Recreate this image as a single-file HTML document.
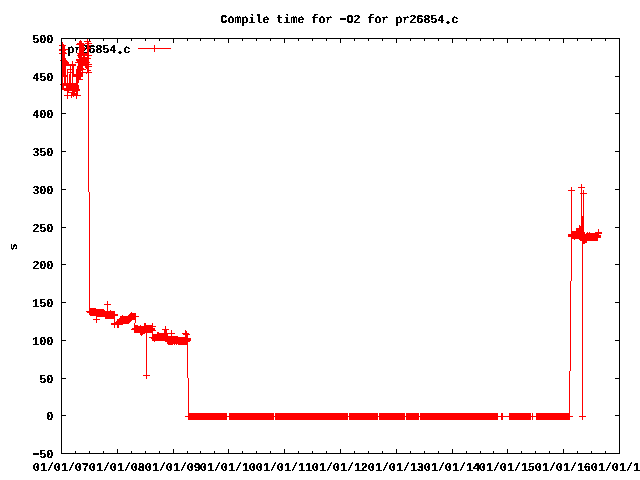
<!DOCTYPE html>
<html>
<head>
<meta charset="utf-8">
<title>Compile time for -O2 for pr26854.c</title>
<style>
html,body{margin:0;padding:0;background:#fff;}
body{width:640px;height:480px;overflow:hidden;}
svg{display:block;}
text{text-rendering:geometricPrecision;font-family:"Liberation Mono",monospace;font-weight:bold;font-size:12.0px;letter-spacing:-0.20px;fill:#000;}
</style>
</head>
<body>
<svg width="640" height="480" viewBox="0 0 640 480">
<rect x="0" y="0" width="640" height="480" fill="#ffffff"/>
<path d="M62,76h4v1h-4zM615,76h4v1h-4zM62,113h4v1h-4zM615,113h4v1h-4zM62,151h4v1h-4zM615,151h4v1h-4zM62,189h4v1h-4zM615,189h4v1h-4zM62,227h4v1h-4zM615,227h4v1h-4zM62,264h4v1h-4zM615,264h4v1h-4zM62,302h4v1h-4zM615,302h4v1h-4zM62,340h4v1h-4zM615,340h4v1h-4zM62,378h4v1h-4zM615,378h4v1h-4zM62,415h4v1h-4zM615,415h4v1h-4zM75,451h1v2h-1zM75,39h1v2h-1zM89,451h1v2h-1zM89,39h1v2h-1zM103,451h1v2h-1zM103,39h1v2h-1zM117,449h1v4h-1zM117,39h1v4h-1zM131,451h1v2h-1zM131,39h1v2h-1zM145,451h1v2h-1zM145,39h1v2h-1zM159,451h1v2h-1zM159,39h1v2h-1zM173,449h1v4h-1zM173,39h1v4h-1zM187,451h1v2h-1zM187,39h1v2h-1zM200,451h1v2h-1zM200,39h1v2h-1zM214,451h1v2h-1zM214,39h1v2h-1zM228,449h1v4h-1zM228,39h1v4h-1zM242,451h1v2h-1zM242,39h1v2h-1zM256,451h1v2h-1zM256,39h1v2h-1zM270,451h1v2h-1zM270,39h1v2h-1zM284,449h1v4h-1zM284,39h1v4h-1zM298,451h1v2h-1zM298,39h1v2h-1zM312,451h1v2h-1zM312,39h1v2h-1zM326,451h1v2h-1zM326,39h1v2h-1zM340,449h1v4h-1zM340,39h1v4h-1zM354,451h1v2h-1zM354,39h1v2h-1zM368,451h1v2h-1zM368,39h1v2h-1zM382,451h1v2h-1zM382,39h1v2h-1zM396,449h1v4h-1zM396,39h1v4h-1zM410,451h1v2h-1zM410,39h1v2h-1zM424,451h1v2h-1zM424,39h1v2h-1zM438,451h1v2h-1zM438,39h1v2h-1zM452,449h1v4h-1zM452,39h1v4h-1zM466,451h1v2h-1zM466,39h1v2h-1zM480,451h1v2h-1zM480,39h1v2h-1zM493,451h1v2h-1zM493,39h1v2h-1zM507,449h1v4h-1zM507,39h1v4h-1zM521,451h1v2h-1zM521,39h1v2h-1zM535,451h1v2h-1zM535,39h1v2h-1zM549,451h1v2h-1zM549,39h1v2h-1zM563,449h1v4h-1zM563,39h1v4h-1zM577,451h1v2h-1zM577,39h1v2h-1zM591,451h1v2h-1zM591,39h1v2h-1zM605,451h1v2h-1zM605,39h1v2h-1zM340,18h6v2h-6zM447,21h2v3h-2zM446,22h4v1h-4zM119,51h2v3h-2zM118,52h4v1h-4zM33,453h6v2h-6z" fill="#000" shape-rendering="crispEdges"/>
<defs><filter id="th" x="0" y="0" width="640" height="480" filterUnits="userSpaceOnUse" color-interpolation-filters="sRGB"><feComponentTransfer><feFuncA type="discrete" tableValues="0 0 0 1 1 1 1 1"/></feComponentTransfer></filter></defs>
<g filter="url(#th)">
<text x="220.30" y="23.00">Compile time for <tspan dy="-1">-</tspan><tspan dy="1">O2 for pr26854.c</tspan></text>
<text x="32.30" y="43.00">500</text>
<text x="32.30" y="81.00">450</text>
<text x="32.30" y="118.00">400</text>
<text x="32.30" y="156.00">350</text>
<text x="32.30" y="194.00">300</text>
<text x="32.30" y="232.00">250</text>
<text x="32.30" y="269.00">200</text>
<text x="32.30" y="307.00">150</text>
<text x="32.30" y="345.00">100</text>
<text x="39.30" y="383.00">50</text>
<text x="46.30" y="420.00">0</text>
<text x="32.30" y="458.00"><tspan dy="-1">-</tspan><tspan dy="1">50</tspan></text>
<text x="32.80" y="471.00">01/01/07</text>
<text x="88.80" y="471.00">01/01/08</text>
<text x="144.80" y="471.00">01/01/09</text>
<text x="199.80" y="471.00">01/01/10</text>
<text x="255.80" y="471.00">01/01/11</text>
<text x="311.80" y="471.00">01/01/12</text>
<text x="367.80" y="471.00">01/01/13</text>
<text x="423.80" y="471.00">01/01/14</text>
<text x="478.80" y="471.00">01/01/15</text>
<text x="534.80" y="471.00">01/01/16</text>
<text x="590.80" y="471.00">01/01/17</text>
<text transform="translate(17,250.5) rotate(-90)" x="0" y="0">s</text>
<text x="67.30" y="53">pr26854.c</text>
</g>
<path d="M59,45h7v1h-7zM59,50h7v1h-7zM59,53h8v1h-8zM59,49h9v1h-9zM60,60h7v1h-7zM60,84h18v1h-18zM62,42h1v2h-1zM62,77h1v6h-1zM62,44h2v1h-2zM62,86h2v2h-2zM62,46h3v3h-3zM62,51h3v1h-3zM62,54h3v4h-3zM62,52h4v1h-4zM62,58h4v2h-4zM62,66h4v9h-4zM62,61h6v1h-6zM62,75h6v2h-6zM62,62h7v2h-7zM62,64h14v2h-14zM62,83h16v1h-16zM62,85h17v1h-17zM62,88h17v1h-17zM62,89h18v1h-18zM64,77h2v6h-2zM64,90h16v1h-16zM64,95h17v1h-17zM66,86h13v2h-13zM67,70h1v2h-1zM67,73h1v2h-1zM67,77h1v6h-1zM67,93h1v2h-1zM67,96h1v3h-1zM67,91h2v1h-2zM67,69h7v1h-7zM67,72h7v1h-7zM67,92h8v1h-8zM69,74h2v9h-2zM70,66h1v3h-1zM70,70h1v2h-1zM70,73h1v1h-1zM71,96h1v2h-1zM71,93h7v2h-7zM72,61h1v3h-1zM72,77h1v6h-1zM72,66h2v3h-2zM72,70h2v2h-2zM72,73h2v1h-2zM72,91h6v1h-6zM72,74h11v3h-11zM73,96h1v1h-1zM75,62h15v1h-15zM76,96h1v3h-1zM76,92h2v1h-2zM76,80h3v3h-3zM76,71h5v1h-5zM76,77h5v2h-5zM76,70h7v1h-7zM76,73h7v1h-7zM76,79h7v1h-7zM76,44h9v1h-9zM76,69h10v1h-10zM76,59h13v2h-13zM76,72h16v1h-16zM77,66h6v2h-6zM77,43h7v1h-7zM77,68h7v1h-7zM77,53h12v1h-12zM77,61h12v1h-12zM77,55h15v1h-15zM78,56h4v1h-4zM78,54h11v1h-11zM78,57h11v1h-11zM78,63h11v1h-11zM78,65h11v1h-11zM78,64h14v1h-14zM79,41h3v2h-3zM79,45h5v2h-5zM79,50h5v3h-5zM79,47h6v3h-6zM79,58h12v1h-12zM80,40h1v1h-1zM82,71h1v1h-1zM83,56h2v1h-2zM84,41h7v1h-7zM85,67h4v1h-4zM85,43h7v1h-7zM85,66h7v1h-7zM86,73h1v1h-1zM86,68h3v1h-3zM86,311h29v1h-29zM87,39h1v2h-1zM87,42h2v1h-2zM87,44h2v1h-2zM87,46h2v1h-2zM87,49h2v4h-2zM87,56h2v1h-2zM87,69h2v1h-2zM87,71h2v1h-2zM87,47h3v1h-3zM87,45h4v1h-4zM87,48h4v1h-4zM87,70h4v1h-4zM87,312h28v1h-28zM88,73h1v119h-1zM89,192h1v116h-1zM89,308h7v1h-7zM89,309h15v1h-15zM89,310h16v1h-16zM89,313h26v1h-26zM89,314h29v1h-29zM90,315h28v1h-28zM93,319h7v1h-7zM96,317h1v2h-1zM96,320h1v3h-1zM96,316h19v1h-19zM104,304h7v1h-7zM105,317h10v2h-10zM107,301h1v3h-1zM107,305h1v6h-1zM110,310h1v1h-1zM111,324h12v1h-12zM111,323h18v1h-18zM114,319h1v3h-1zM114,325h1v3h-1zM114,322h16v1h-16zM116,321h15v1h-15zM117,325h2v3h-2zM117,320h15v1h-15zM117,319h19v1h-19zM119,318h17v1h-17zM120,317h16v1h-16zM120,316h19v1h-19zM122,315h1v1h-1zM128,315h8v1h-8zM129,314h7v1h-7zM130,313h6v1h-6zM131,312h1v1h-1zM131,329h24v1h-24zM132,328h23v1h-23zM134,323h1v2h-1zM134,325h4v1h-4zM134,327h19v1h-19zM134,331h19v2h-19zM134,326h22v1h-22zM134,330h22v1h-22zM135,320h1v3h-1zM138,48h33v1h-33zM140,325h1v1h-1zM140,334h3v1h-3zM140,333h5v1h-5zM141,335h1v1h-1zM143,375h7v1h-7zM144,323h2v2h-2zM144,325h9v1h-9zM146,333h1v42h-1zM146,376h1v3h-1zM149,337h39v1h-39zM151,338h40v1h-40zM152,323h1v2h-1zM152,333h1v1h-1zM152,334h16v2h-16zM152,336h26v1h-26zM152,339h39v2h-39zM154,45h1v3h-1zM154,49h1v3h-1zM154,341h1v1h-1zM157,332h2v1h-2zM157,333h18v1h-18zM162,329h7v1h-7zM164,330h3v3h-3zM165,326h1v3h-1zM165,341h25v1h-25zM167,342h21v2h-21zM168,344h5v1h-5zM171,330h1v3h-1zM171,334h1v2h-1zM174,344h1v1h-1zM176,344h1v1h-1zM178,344h10v1h-10zM182,333h7v1h-7zM183,334h7v1h-7zM185,330h1v1h-1zM185,331h2v2h-2zM185,335h3v2h-3zM185,416h388v1h-388zM187,345h1v33h-1zM188,378h1v35h-1zM188,413h39v3h-39zM188,417h39v3h-39zM229,413h45v3h-45zM229,417h45v3h-45zM275,413h73v3h-73zM275,417h73v3h-73zM349,413h29v3h-29zM349,417h29v3h-29zM379,413h26v3h-26zM379,417h26v3h-26zM406,413h13v3h-13zM406,417h13v3h-13zM420,413h78v3h-78zM420,417h78v3h-78zM501,413h2v3h-2zM501,417h2v3h-2zM509,413h22v3h-22zM509,417h22v3h-22zM532,413h1v3h-1zM532,417h1v3h-1zM536,413h34v3h-34zM536,417h34v3h-34zM568,190h7v1h-7zM568,234h31v1h-31zM568,235h33v2h-33zM569,371h1v42h-1zM570,281h1v90h-1zM571,187h1v3h-1zM571,191h1v40h-1zM571,239h1v42h-1zM571,231h13v1h-13zM571,232h14v2h-14zM571,238h27v1h-27zM571,237h30v1h-30zM574,239h1v1h-1zM576,228h8v3h-8zM578,187h7v1h-7zM579,225h1v1h-1zM579,226h5v2h-5zM579,416h7v1h-7zM579,239h19v1h-19zM580,193h7v1h-7zM580,240h18v1h-18zM581,184h1v3h-1zM581,188h1v5h-1zM581,194h1v22h-1zM581,216h3v10h-3zM582,244h1v172h-1zM582,417h1v3h-1zM582,243h3v1h-3zM582,241h5v2h-5zM583,190h1v3h-1zM583,194h1v22h-1zM586,233h16v1h-16zM587,232h1v1h-1zM589,232h1v1h-1zM595,232h7v1h-7zM598,229h1v3h-1z" fill="#ff0000" shape-rendering="crispEdges"/>
<path d="M61,38h559v1h-559zM61,453h559v1h-559zM61,38h1v416h-1zM619,38h1v416h-1z" fill="#000" shape-rendering="crispEdges"/>
</svg>
</body>
</html>
